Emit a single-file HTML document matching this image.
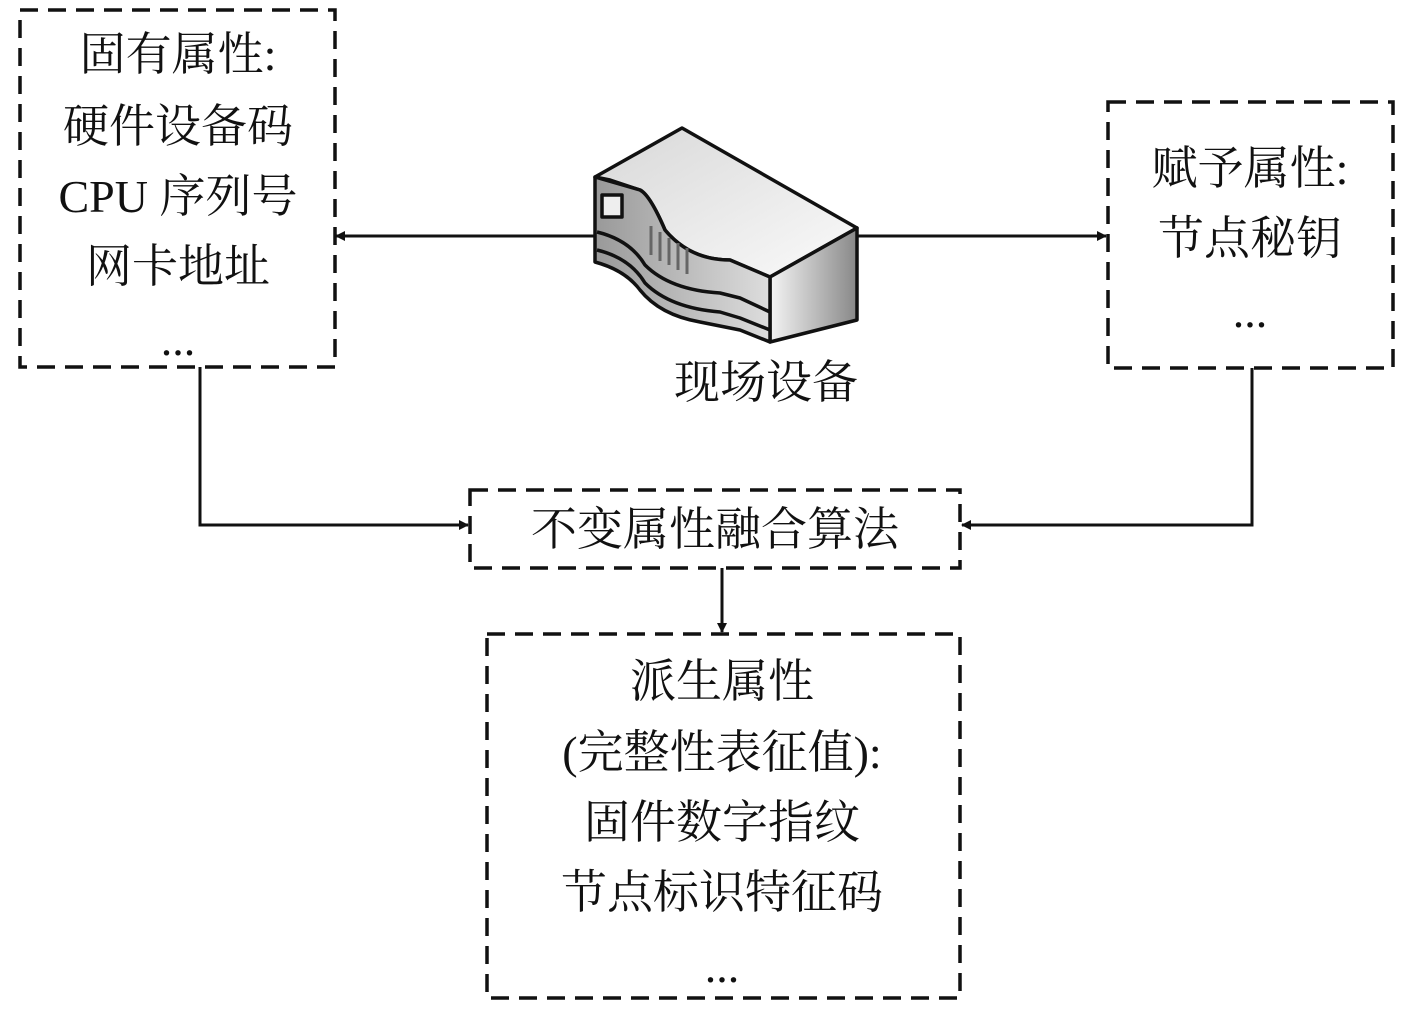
<!DOCTYPE html>
<html><head><meta charset="utf-8"><style>
body{margin:0;background:#fff;}
svg text{font-family:"Liberation Serif","Noto Serif CJK SC",serif;fill:#111;}
</style></head><body>
<svg width="1417" height="1011" viewBox="0 0 1417 1011" xmlns="http://www.w3.org/2000/svg">
<defs>
<marker id="a" markerWidth="10" markerHeight="10" refX="9" refY="5" orient="auto" markerUnits="userSpaceOnUse" viewBox="0 0 10 10"><path d="M0,0 L10,5 L0,10 z" fill="#111"/></marker>
<linearGradient id="g1" x1="0" y1="0" x2="1" y2="1"><stop offset="0" stop-color="#d8d8d8"/><stop offset="1" stop-color="#fafafa"/></linearGradient>
<linearGradient id="g2" x1="0" y1="0" x2="1" y2="0"><stop offset="0" stop-color="#f4f4f4"/><stop offset="1" stop-color="#888"/></linearGradient>
<linearGradient id="g3" x1="0" y1="0" x2="1" y2="0"><stop offset="0" stop-color="#999"/><stop offset="1" stop-color="#ddd"/></linearGradient>
</defs>
<g fill="none" stroke="#111" stroke-width="3.5" stroke-dasharray="18,10">
<rect x="20" y="10" width="315" height="357"/>
<rect x="1108" y="102" width="285" height="266"/>
<rect x="470" y="490" width="490" height="78"/>
<rect x="487" y="634" width="473" height="364"/>
</g>
<g fill="none" stroke="#111" stroke-width="3" marker-end="url(#a)">
<line x1="597" y1="236" x2="336" y2="236"/>
<line x1="855" y1="236" x2="1106" y2="236"/>
<polyline points="200,367 200,525 468,525"/>
<polyline points="1252,368 1252,525 962,525"/>
<line x1="722" y1="568" x2="722" y2="632"/>
</g>
<!-- device -->
<g stroke="#111" stroke-width="3.5" stroke-linejoin="round">
<path d="M595,177 L682,128 L857,228 L770,277 L730,260 Q690,260 665,230 Q650,195 640,190 L610,180 Z" fill="url(#g1)"/>
<path d="M770,277 L857,228 L857,320 L770,342 Z" fill="url(#g2)"/>
<path d="M595,177 L640,190 Q650,195 665,230 Q690,260 730,260 L770,277 L770,342 L740,330 L700,322 Q660,315 640,290 Q625,270 595,262 Z" fill="url(#g3)"/>
<path d="M597,232 Q630,240 645,265 Q670,290 720,293 L740,298 L770,312" fill="none"/>
<path d="M597,250 Q630,258 645,283 Q670,308 720,312 L740,318 L770,330" fill="none"/>
<rect x="602" y="195" width="20" height="22" fill="#eee"/>
</g>
<g stroke="#666" stroke-width="3"><line x1="651" y1="226" x2="651" y2="255"/><line x1="660" y1="232" x2="660" y2="261"/><line x1="669" y1="238" x2="669" y2="265"/><line x1="678" y1="243" x2="678" y2="270"/><line x1="687" y1="248" x2="687" y2="274"/></g>
<g font-size="46" text-anchor="middle">
<text x="178" y="70">固有属性:</text>
<text x="178" y="142">硬件设备码</text>
<text x="178" y="212">CPU 序列号</text>
<text x="178" y="282">网卡地址</text>
<text x="178" y="355">...</text>
<text x="1250" y="184">赋予属性:</text>
<text x="1250" y="254">节点秘钥</text>
<text x="1250" y="327">...</text>
<text x="766" y="398">现场设备</text>
<text x="715" y="545">不变属性融合算法</text>
<text x="722" y="697">派生属性</text>
<text x="722" y="768">(完整性表征值):</text>
<text x="722" y="838">固件数字指纹</text>
<text x="722" y="908">节点标识特征码</text>
<text x="722" y="982">...</text>
</g>
</svg>
</body></html>
